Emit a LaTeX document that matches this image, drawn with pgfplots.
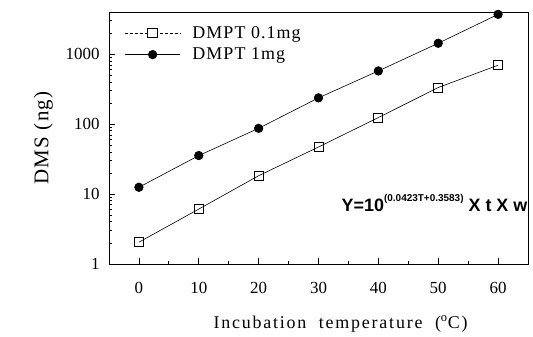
\documentclass[border=0pt]{standalone}
\usepackage{fontspec}
\setmainfont{Liberation Serif}
\setsansfont{Liberation Sans}
\usepackage{pgfplots}
\pgfplotsset{compat=1.18}
\begin{document}
\begin{tikzpicture}
\begin{axis}[
  name=ax,
  scale only axis, width=419bp, height=252bp,
  xmin=-5, xmax=65, ymode=log, ymin=1, ymax=4000,
  xtick={0,10,...,60}, minor x tick num=1,
  ytick={1,10,100,1000}, yticklabels={1,10,100,1000},
  minor ytick={2,3,4,5,6,7,8,9,20,30,40,50,60,70,80,90,200,300,400,500,600,700,800,900,2000,3000,4000},
  tick align=inside, xtick pos=bottom, ytick pos=left,
  major tick length=6bp, minor tick length=3.5bp,
  axis line style={line width=1pt},
  tick style={black, line width=0.8pt},
  tick label style={font=\fontsize{17}{19}\selectfont},
  /pgf/number format/assume math mode=true,
  xticklabel style={yshift=-15bp},
  yticklabel style={xshift=-6bp},
  xlabel={\addfontfeatures{LetterSpace=10}Incubation\ \ temperature\ \ ($^{\mathrm{o}}$C)},
  ylabel={\addfontfeatures{LetterSpace=6}DMS (ng)},
  xlabel style={font=\fontsize{18}{20}\selectfont, yshift=-15bp, xshift=22bp},
  ylabel style={font=\fontsize{21}{23}\selectfont, yshift=6bp},
  legend style={at={(rel axis cs:0.035,0.955)}, anchor=north west, draw=none, fill=none,
    font=\fontsize{18}{20}\selectfont, row sep=4bp, inner sep=1bp},
  legend cell align=left,
]
\addplot[black, line width=0.6pt, mark=square, mark size=4.5bp, mark options={solid, fill=white, line width=0.8pt},
  legend image code/.code={\draw[densely dashed, line width=0.6pt] (0bp,0bp) -- (55bp,0bp);
    \draw[solid, fill=white, line width=0.8pt] (22.5bp,-4.5bp) rectangle (32.5bp,4.5bp);}]
  coordinates {(0,2.05) (10,6.1) (20,18.3) (30,47) (40,124) (50,333) (60,695)};
\addlegendentry{\hspace*{10bp}\addfontfeatures{LetterSpace=6}DMPT\ 0.1mg}
\addplot[black, line width=0.6pt, mark=*, mark size=4.3bp, mark options={solid, fill=black},
  legend image code/.code={\draw[line width=0.6pt] (0bp,0bp) -- (55bp,0bp);
    \fill (27.5bp,0bp) circle (4.3bp);}]
  coordinates {(0,12.5) (10,35.5) (20,87) (30,237) (40,575) (50,1430) (60,3700)};
\addlegendentry{\hspace*{10bp}\addfontfeatures{LetterSpace=6}DMPT\ 1mg}
\node[anchor=base west, inner sep=0pt, font=\sffamily\bfseries\fontsize{18}{20}\selectfont]
  at (rel axis cs:0.555,0.21) {Y=10\raisebox{1.0ex}{\fontsize{10}{11}\selectfont (0.0423T+0.3583)}\ X\ t\ X\ w};
\end{axis}
\pgfresetboundingbox
\path ([shift={(-109bp,-72bp)}]ax.south west) rectangle ([shift={(5bp,12bp)}]ax.north east);
\end{tikzpicture}
\end{document}
